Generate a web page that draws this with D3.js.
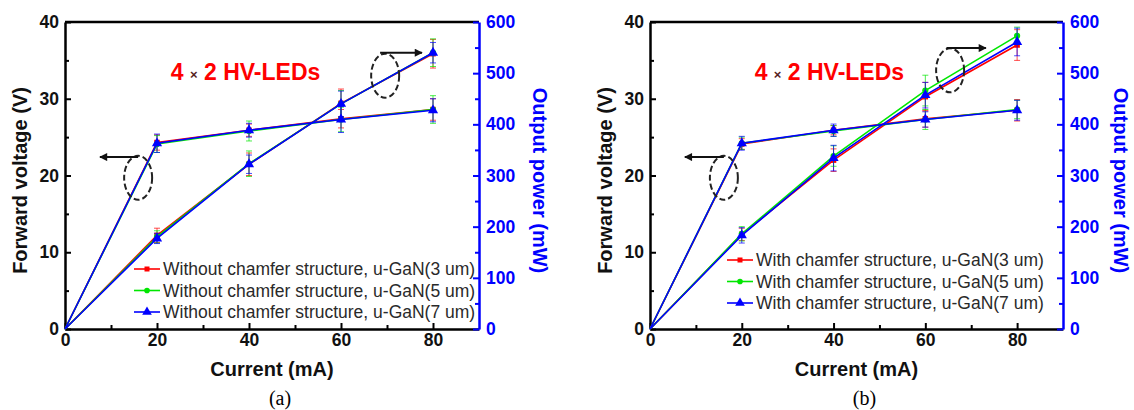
<!DOCTYPE html>
<html>
<head>
<meta charset="utf-8">
<script src="https://cdn.jsdelivr.net/npm/d3@7"></script>
<style>
  body { margin: 0; background: #fff; }
  svg { display: block; font-family: "Liberation Sans", Arial, sans-serif; }
</style>
</head>
<body>
<div id="chart"></div>
<script>
// ---- data ----
const currents = [0, 20, 40, 60, 80];

// (a) without chamfer
const aVolt3 = [0, 24.3, 25.9, 27.4, 28.6];
const aVolt5 = [0, 24.1, 25.8, 27.3, 28.6];
const aVolt7 = [0, 24.2, 25.9, 27.3, 28.5];
const aVoltErr3 = [0, 1.0, 0.8, 1.2, 1.4];
const aVoltErr5 = [0, 1.1, 1.3, 1.6, 1.8];
const aVoltErr7 = [0, 1.2, 0.9, 1.7, 1.5];
const aPow3 = [0, 183, 322, 441, 538];
const aPow5 = [0, 180, 323, 440, 540];
const aPow7 = [0, 177, 322, 440, 540];
const aPowErr3 = [0, 14, 22, 28, 28];
const aPowErr5 = [0, 12, 25, 26, 27];
const aPowErr7 = [0, 10, 18, 25, 20];
const aLegend = ["Without chamfer structure, u-GaN(3 um)",
                 "Without chamfer structure, u-GaN(5 um)",
                 "Without chamfer structure, u-GaN(7 um)"];

// (b) with chamfer
const bVolt3 = [0, 24.1, 25.9, 27.4, 28.5];
const bVolt5 = [0, 24.2, 25.8, 27.3, 28.6];
const bVolt7 = [0, 24.2, 25.9, 27.3, 28.5];
const bVoltErr3 = [0, 0.7, 0.6, 1.1, 1.4];
const bVoltErr5 = [0, 0.8, 0.7, 1.3, 1.2];
const bVoltErr7 = [0, 0.9, 0.8, 1.0, 1.3];
const bPow3 = [0, 185, 330, 454, 555];
const bPow5 = [0, 186, 338, 466, 573];
const bPow7 = [0, 183, 334, 457, 561];
const bPowErr3 = [0, 12, 22, 28, 30];
const bPowErr5 = [0, 14, 20, 30, 17];
const bPowErr7 = [0, 15, 25, 25, 27];
const bLegend = ["With chamfer structure, u-GaN(3 um)",
                 "With chamfer structure, u-GaN(5 um)",
                 "With chamfer structure, u-GaN(7 um)"];

const xTicks = [0, 20, 40, 60, 80];
const yTicks = [0, 10, 20, 30, 40];
const y2Ticks = [0, 100, 200, 300, 400, 500, 600];

const colors = ["#ff0000", "#00e600", "#0000ff"];
const shapes = [d3.symbolSquare, d3.symbolCircle, d3.symbolTriangle];

const width = 1134, height = 410;
const svg = d3.select("#chart").append("svg")
  .attr("width", width).attr("height", height);

svg.append("defs").append("marker")
  .attr("id", "arrow")
  .attr("viewBox", "0 0 10 10")
  .attr("refX", 9).attr("refY", 5)
  .attr("markerWidth", 12).attr("markerHeight", 8)
  .attr("markerUnits", "userSpaceOnUse")
  .attr("orient", "auto")
  .append("path").attr("d", "M0,0L10,5L0,10Z").attr("fill", "#111");

function drawPanel(p) {
  const x = d3.scaleLinear().domain([0, 90]).range([p.left, p.right]);
  const y = d3.scaleLinear().domain([0, 40]).range([p.bottom, p.top]);
  const y2 = d3.scaleLinear().domain([0, 600]).range([p.bottom, p.top]);
  const g = svg.append("g");

  // frame top line
  g.append("line")
    .attr("x1", p.left).attr("x2", p.right)
    .attr("y1", p.top).attr("y2", p.top)
    .attr("stroke", "#000").attr("stroke-width", 2.5);

  // minor ticks
  g.append("g").attr("transform", `translate(0,${p.bottom})`)
    .call(d3.axisBottom(x).tickValues([10, 30, 50, 70]).tickSize(-4).tickSizeOuter(0).tickFormat(""))
    .call(a => a.select(".domain").remove())
    .selectAll("line").attr("stroke", "#000").attr("stroke-width", 2);
  g.append("g").attr("transform", `translate(${p.left},0)`)
    .call(d3.axisLeft(y).tickValues([5, 15, 25, 35]).tickSize(-4).tickSizeOuter(0).tickFormat(""))
    .call(a => a.select(".domain").remove())
    .selectAll("line").attr("stroke", "#000").attr("stroke-width", 2);
  g.append("g").attr("transform", `translate(${p.right},0)`)
    .call(d3.axisRight(y2).tickValues([50, 150, 250, 350, 450, 550]).tickSize(-4).tickSizeOuter(0).tickFormat(""))
    .call(a => a.select(".domain").remove())
    .selectAll("line").attr("stroke", "#0000ff").attr("stroke-width", 2);

  // major axes
  const xa = g.append("g").attr("transform", `translate(0,${p.bottom})`)
    .call(d3.axisBottom(x).tickValues(xTicks).tickSize(-6).tickSizeOuter(0).tickPadding(5));
  const ya = g.append("g").attr("transform", `translate(${p.left},0)`)
    .call(d3.axisLeft(y).tickValues(yTicks).tickSize(-6).tickSizeOuter(0).tickPadding(6));
  const y2a = g.append("g").attr("transform", `translate(${p.right},0)`)
    .call(d3.axisRight(y2).tickValues(y2Ticks).tickSize(-6).tickSizeOuter(0).tickPadding(7));

  [xa, ya].forEach(a => {
    a.select(".domain").attr("stroke", "#000").attr("stroke-width", 2.5);
    a.selectAll(".tick line").attr("stroke", "#000").attr("stroke-width", 2);
    a.selectAll("text").attr("font-size", 17.5).attr("font-weight", "bold")
      .attr("fill", "#111").attr("font-family", "Liberation Sans, Arial, sans-serif");
  });
  y2a.select(".domain").attr("stroke", "#0000ff").attr("stroke-width", 2.5);
  y2a.selectAll(".tick line").attr("stroke", "#0000ff").attr("stroke-width", 2);
  y2a.selectAll("text").attr("font-size", 17.5).attr("font-weight", "bold")
    .attr("fill", "#0000ff").attr("font-family", "Liberation Sans, Arial, sans-serif");

  // axis titles
  const midX = (p.left + p.right) / 2, midY = (p.top + p.bottom) / 2;
  g.append("text").attr("x", midX).attr("y", p.bottom + 47)
    .attr("text-anchor", "middle").attr("font-size", 20).attr("font-weight", "bold")
    .attr("fill", "#111")
    .text("Current (mA)");
  g.append("text")
    .attr("transform", `translate(${p.left - 38},${midY + 5}) rotate(-90)`)
    .attr("text-anchor", "middle").attr("font-size", 20).attr("font-weight", "bold")
    .attr("fill", "#111")
    .text("Forward voltage (V)");
  g.append("text")
    .attr("transform", `translate(${p.right + p.rightTitle},${midY + 5}) rotate(90)`)
    .attr("text-anchor", "middle").attr("font-size", 20).attr("font-weight", "bold")
    .attr("fill", "#0000ff")
    .text("Output power (mW)");
  g.append("text").attr("x", midX + 8).attr("y", 405)
    .attr("text-anchor", "middle").attr("font-size", 20)
    .attr("font-family", "Liberation Serif, Times New Roman, serif")
    .text(p.label);

  // title
  const t = g.append("text").attr("x", x(p.titleAt[0])).attr("y", y(p.titleAt[1]))
    .attr("font-size", 23).attr("font-weight", "bold").attr("fill", "#ff0000");
  t.append("tspan").text("4 ");
  t.append("tspan").attr("font-size", 13).attr("fill", "#552222").attr("dy", -1).text("×");
  t.append("tspan").attr("dy", 1).text(" 2 HV-LEDs");

  // series
  const line = d3.line().x((d, i) => x(currents[i]));
  p.series.forEach((s, k) => {
    const sg = g.append("g");
    [[s.volt, s.voltErr, y], [s.pow, s.powErr, y2]].forEach(([vals, errs, sc]) => {
      sg.append("path")
        .attr("d", line.y(d => sc(d))(vals))
        .attr("fill", "none").attr("stroke", colors[k]).attr("stroke-width", 1.6);
      vals.forEach((v, i) => {
        if (!errs[i]) return;
        const cx = x(currents[i]);
        const y1 = sc(v - errs[i]), y2e = sc(v + errs[i]);
        sg.append("path")
          .attr("d", `M${cx},${y1}V${y2e}M${cx - 3},${y1}H${cx + 3}M${cx - 3},${y2e}H${cx + 3}`)
          .attr("stroke", colors[k]).attr("stroke-width", 1).attr("fill", "none")
          .attr("opacity", 0.7);
      });
      sg.selectAll(null).data(vals.slice(1)).join("path")
        .attr("transform", (d, i) => `translate(${x(currents[i + 1])},${sc(d)})`)
        .attr("d", d3.symbol().type(shapes[k]).size(k === 2 ? 45 : 30))
        .attr("fill", colors[k]);
    });
  });

  // legend
  p.legend.forEach((name, k) => {
    const ly = p.legendY + k * 21.5;
    g.append("line").attr("x1", p.legendX).attr("x2", p.legendX + 26)
      .attr("y1", ly).attr("y2", ly).attr("stroke", colors[k]).attr("stroke-width", 1.6);
    g.append("path").attr("transform", `translate(${p.legendX + 13},${ly})`)
      .attr("d", d3.symbol().type(shapes[k]).size(k === 2 ? 40 : 25)).attr("fill", colors[k]);
    g.append("text").attr("x", p.legendX + 29).attr("y", ly + 6)
      .attr("font-size", 17.5).attr("fill", "#2a2a2a").text(name);
  });

  // annotations: dashed ellipses with arrows
  p.notes.forEach(n => {
    g.append("ellipse").attr("cx", x(n.cx)).attr("cy", y(n.cy)).attr("rx", 14).attr("ry", 22)
      .attr("fill", "none").attr("stroke", "#222").attr("stroke-width", 2)
      .attr("stroke-dasharray", "6,3");
    g.append("line").attr("x1", x(n.from)).attr("x2", x(n.to))
      .attr("y1", y(n.ay)).attr("y2", y(n.ay))
      .attr("stroke", "#111").attr("stroke-width", 2).attr("marker-end", "url(#arrow)");
  });
}

drawPanel({
  left: 65, right: 479, top: 22, bottom: 329, label: "(a)", rightTitle: 54,
  titleAt: [23, 32.5], legendX: 134, legendY: 269, legend: aLegend,
  series: [
    { volt: aVolt3, voltErr: aVoltErr3, pow: aPow3, powErr: aPowErr3 },
    { volt: aVolt5, voltErr: aVoltErr5, pow: aPow5, powErr: aPowErr5 },
    { volt: aVolt7, voltErr: aVoltErr7, pow: aPow7, powErr: aPowErr7 }
  ],
  notes: [
    { cx: 15.9, cy: 19.7, ay: 22.4, from: 15.9, to: 7.6 },
    { cx: 69.6, cy: 33.0, ay: 36.0, from: 68.5, to: 77.6 }
  ]
});

drawPanel({
  left: 650, right: 1063, top: 22, bottom: 329, label: "(b)", rightTitle: 51,
  titleAt: [22.8, 32.5], legendX: 727, legendY: 260, legend: bLegend,
  series: [
    { volt: bVolt3, voltErr: bVoltErr3, pow: bPow3, powErr: bPowErr3 },
    { volt: bVolt5, voltErr: bVoltErr5, pow: bPow5, powErr: bPowErr5 },
    { volt: bVolt7, voltErr: bVoltErr7, pow: bPow7, powErr: bPowErr7 }
  ],
  notes: [
    { cx: 16.1, cy: 19.7, ay: 22.4, from: 16.1, to: 7.6 },
    { cx: 65.4, cy: 33.7, ay: 36.6, from: 64.6, to: 73.2 }
  ]
});
</script>
</body>
</html>
